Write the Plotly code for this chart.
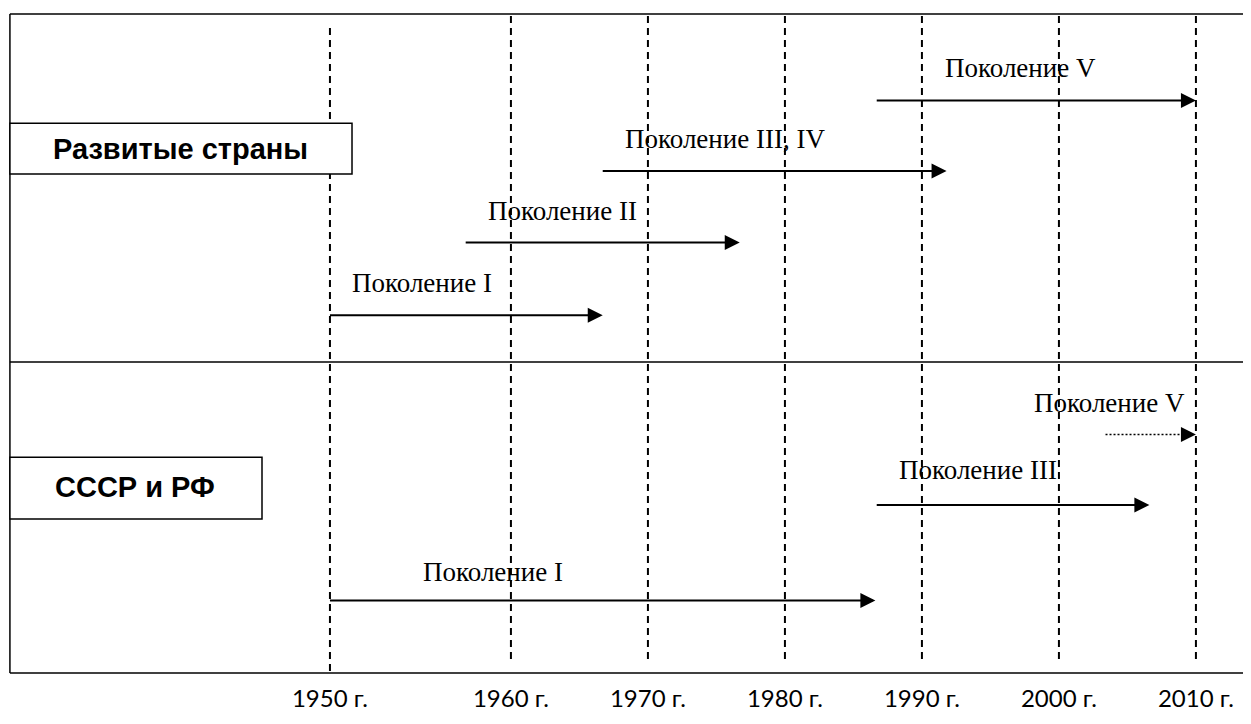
import numpy as np
import plotly.graph_objects as go

# ---- data ----
TICK_YEARS = [1950, 1960, 1970, 1980, 1990, 2000, 2010]
TICK_TEXT = ["1950 г.", "1960 г.", "1970 г.", "1980 г.", "1990 г.", "2000 г.", "2010 г."]
# non-uniform time scale of the original drawing (decade columns)
TICK_POS = [0.0, 1.321, 2.321, 3.321, 4.321, 5.321, 6.321]

GROUPS = ["Развитые страны", "СССР и РФ"]
ARROW_GROUP = ["Развитые страны"] * 4 + ["СССР и РФ"] * 3
ARROW_LABELS = ["Поколение V", "Поколение III, IV", "Поколение II", "Поколение I",
                "Поколение V", "Поколение III", "Поколение I"]
ARROW_START = [1986.7, 1966.7, 1957.5, 1950.0, 2003.4, 1986.7, 1950.0]
ARROW_END = [2010.0, 1991.8, 1976.7, 1966.7, 2010.0, 2006.6, 1986.6]
ARROW_DASH = ["solid", "solid", "solid", "solid", "2px,2px", "solid", "solid"]
LABEL_YEAR = [1997.2, 1975.6, 1963.8, 1955.1, 2003.7, 1994.1, 1959.0]

# ---- layout positions (screen-like units, y downwards) ----
ROW_Y = [101, 172, 244, 317, 437, 508, 604]
LABEL_Y = [68, 140, 212, 285, 405, 473, 575]
X_RANGE = [-2.350, 6.723]
FRAME_LEFT = -2.336
FRAME_RIGHT = 7.0
FRAME_TOP, FRAME_MID, FRAME_BOTTOM = 14, 364, 677
GROUP_BOX = {"Развитые страны": dict(x1=0.161, y0=124, y1=175, tx=-1.088, ty=150),
             "СССР и РФ": dict(x1=-0.496, y0=460, y1=522, tx=-1.423, ty=490)}


def pos(year):
    return float(np.interp(year, TICK_YEARS, TICK_POS))


BLACK = "#000000"
fig = go.Figure()

shapes = []
# dashed year lines
for yr in TICK_YEARS:
    top, bot = (28, 677) if yr == TICK_YEARS[0] else (16, 663)
    shapes.append(dict(type="line", xref="x", yref="y", x0=pos(yr), x1=pos(yr),
                       y0=top, y1=bot, line=dict(color=BLACK, width=2, dash="7px,5px")))
# frame
for y in (FRAME_TOP, FRAME_MID, FRAME_BOTTOM):
    shapes.append(dict(type="line", xref="x", yref="y", x0=FRAME_LEFT, x1=FRAME_RIGHT,
                       y0=y, y1=y, line=dict(color=BLACK, width=1.5)))
shapes.append(dict(type="line", xref="x", yref="y", x0=FRAME_LEFT, x1=FRAME_LEFT,
                   y0=FRAME_TOP, y1=FRAME_BOTTOM, line=dict(color=BLACK, width=1.5)))
# group boxes
annotations = []
for g in GROUPS:
    b = GROUP_BOX[g]
    shapes.append(dict(type="rect", xref="x", yref="y", x0=FRAME_LEFT, x1=b["x1"],
                       y0=b["y0"], y1=b["y1"], fillcolor="white",
                       line=dict(color=BLACK, width=1.5)))
    annotations.append(dict(x=b["tx"], y=b["ty"], xref="x", yref="y", text="<b>" + g + "</b>",
                            showarrow=False, xanchor="center", yanchor="middle",
                            font=dict(family="Liberation Sans, Arial", size=29, color=BLACK)))

# arrows
for lab, s, e, d, ly, ry, lyr in zip(ARROW_LABELS, ARROW_START, ARROW_END, ARROW_DASH,
                                     LABEL_Y, ROW_Y, LABEL_YEAR):
    fig.add_trace(go.Scatter(x=[pos(s), pos(e) - 0.02], y=[ry, ry], mode="lines",
                             line=dict(color=BLACK, width=2 if d == "solid" else 1.5, dash=d),
                             hoverinfo="skip", showlegend=False))
    annotations.append(dict(x=pos(e), y=ry, ax=pos(e) - 0.08, ay=ry, xref="x", yref="y",
                            axref="x", ayref="y", text="", showarrow=True, arrowhead=2,
                            arrowsize=1.5, arrowwidth=2, arrowcolor=BLACK, standoff=0))
    annotations.append(dict(x=pos(lyr), y=ly, xref="x", yref="y", text=lab, showarrow=False,
                            xanchor="center", yanchor="middle",
                            font=dict(family="Liberation Serif, Times New Roman", size=27,
                                      color=BLACK)))

# the page adds a margin around the figure, so the figure is smaller than the
# window and the y axis range starts at 8 to keep units equal to screen pixels
fig.update_layout(
    width=1243, height=704,
    margin=dict(l=0, r=0, t=0, b=33),
    paper_bgcolor="white", plot_bgcolor="white",
    shapes=shapes, annotations=annotations,
    showlegend=False,
    xaxis=dict(range=X_RANGE, showgrid=False, zeroline=False, showline=False,
               tickmode="array", tickvals=[pos(y) for y in TICK_YEARS], ticktext=TICK_TEXT,
               ticks="", ticklabelstandoff=7,
               tickfont=dict(family="Lato, Open Sans", size=24, color=BLACK), fixedrange=True),
    yaxis=dict(range=[679, 8], showgrid=False, zeroline=False, showline=False,
               showticklabels=False, ticks="", fixedrange=True),
)

fig.write_html("out.html")
